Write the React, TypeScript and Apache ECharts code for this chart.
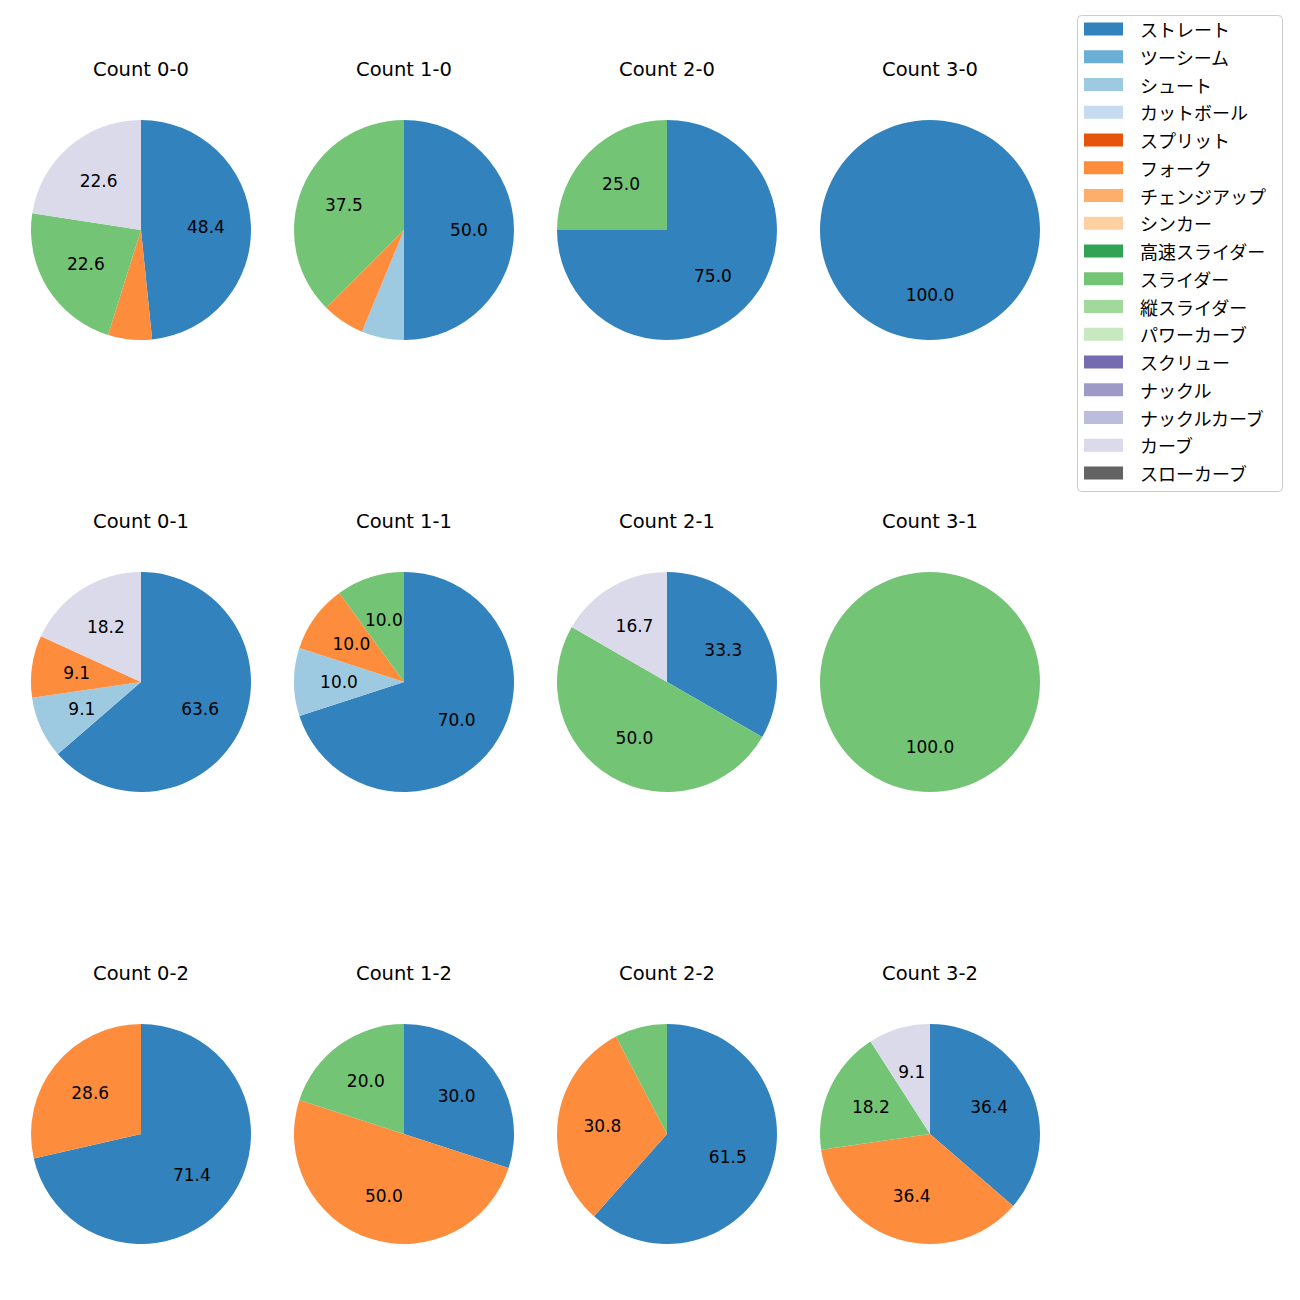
import React, { useEffect, useRef } from "react";
import * as echarts from "echarts";

const pitchTypes = [
  "ストレート", "ツーシーム", "シュート", "カットボール", "スプリット", "フォーク",
  "チェンジアップ", "シンカー", "高速スライダー", "スライダー", "縦スライダー",
  "パワーカーブ", "スクリュー", "ナックル", "ナックルカーブ", "カーブ", "スローカーブ",
];
const pitchColors = [
  "#3182bd", "#6baed6", "#9ecae1", "#c6dbef", "#e6550d", "#fd8d3c",
  "#fdae6b", "#fdd0a2", "#31a354", "#74c476", "#a1d99b",
  "#c7e9c0", "#756bb1", "#9e9ac8", "#bcbddc", "#dadaeb", "#636363",
];

const titles = [
  "Count 0-0", "Count 1-0", "Count 2-0", "Count 3-0",
  "Count 0-1", "Count 1-1", "Count 2-1", "Count 3-1",
  "Count 0-2", "Count 1-2", "Count 2-2", "Count 3-2",
];

type Pair = [string, number];
const count00: Pair[] = [["ストレート", 15], ["フォーク", 2], ["スライダー", 7], ["カーブ", 7]];
const count10: Pair[] = [["ストレート", 8], ["シュート", 1], ["フォーク", 1], ["スライダー", 6]];
const count20: Pair[] = [["ストレート", 3], ["スライダー", 1]];
const count30: Pair[] = [["ストレート", 1]];
const count01: Pair[] = [["ストレート", 7], ["シュート", 1], ["フォーク", 1], ["カーブ", 2]];
const count11: Pair[] = [["ストレート", 7], ["シュート", 1], ["フォーク", 1], ["スライダー", 1]];
const count21: Pair[] = [["ストレート", 2], ["スライダー", 3], ["カーブ", 1]];
const count31: Pair[] = [["スライダー", 1]];
const count02: Pair[] = [["ストレート", 5], ["フォーク", 2]];
const count12: Pair[] = [["ストレート", 3], ["フォーク", 5], ["スライダー", 2]];
const count22: Pair[] = [["ストレート", 8], ["フォーク", 4], ["スライダー", 1]];
const count32: Pair[] = [["ストレート", 4], ["フォーク", 4], ["スライダー", 2], ["カーブ", 1]];

const allCounts = [
  count00, count10, count20, count30,
  count01, count11, count21, count31,
  count02, count12, count22, count32,
];

const CJK = '"Noto Sans CJK JP", "Noto Sans", sans-serif';
const LATIN = '"DejaVu Sans", sans-serif';

export default function App() {
  const ref = useRef<HTMLDivElement>(null);
  useEffect(() => {
    document.body.style.margin = "0";
    const chart = echarts.init(ref.current!, undefined, { renderer: "svg" });
    const colX = [141, 404, 667, 930];
    const rowY = [230, 682, 1134];
    const R = 110;
    const series: any[] = [];
    const graphics: any[] = [];
    allCounts.forEach((cnt, i) => {
      const cx = colX[i % 4];
      const cy = rowY[Math.floor(i / 4)];
      const total = cnt.reduce((s, p) => s + p[1], 0);
      const data = cnt.map(([name, value]) => ({
        name,
        value,
        itemStyle: { color: pitchColors[pitchTypes.indexOf(name)] },
      }));
      series.push({
        type: "pie",
        center: [cx, cy],
        radius: [0, R],
        startAngle: 90,
        clockwise: true,
        silent: true,
        label: { show: false },
        labelLine: { show: false },
        itemStyle: { borderWidth: 0 },
        data,
      });
      series.push({
        type: "pie",
        center: [cx, cy],
        radius: [14, R],
        startAngle: 90,
        clockwise: true,
        silent: true,
        z: 5,
        itemStyle: { color: "rgba(0,0,0,0)", borderWidth: 0 },
        labelLine: { show: false },
        label: {
          show: true,
          position: "inside",
          color: "#000",
          fontSize: 17,
          fontFamily: LATIN,
          formatter: (p: any) => {
            const pct = (p.value / total) * 100;
            return pct < 8 ? "" : pct.toFixed(1);
          },
        },
        data: cnt.map(([name, value]) => ({ name, value })),
      });
      graphics.push({
        type: "text",
        x: cx,
        y: cy - 161,
        style: {
          text: titles[i],
          font: `19.5px ${LATIN}`,
          fill: "#000",
          align: "center",
          verticalAlign: "middle",
        },
      });
    });
    // legend
    graphics.push({
      type: "rect",
      shape: { x: 1077.5, y: 15.5, width: 205, height: 476, r: 4 },
      style: { fill: "#fff", stroke: "#cccccc", lineWidth: 1 },
    });
    pitchTypes.forEach((name, i) => {
      const y = 29 + i * 27.75;
      graphics.push({
        type: "rect",
        shape: { x: 1084, y: y - 6.5, width: 39, height: 13 },
        style: { fill: pitchColors[i] },
      });
      graphics.push({
        type: "text",
        x: 1140,
        y,
        style: {
          text: name,
          font: `18px ${CJK}`,
          fill: "#000",
          align: "left",
          verticalAlign: "middle",
        },
      });
    });
    chart.setOption({
      animation: false,
      backgroundColor: "#fff",
      series,
      graphic: graphics,
    });
    return () => chart.dispose();
  }, []);
  return <div ref={ref} style={{ width: 1300, height: 1300 }} />;
}
